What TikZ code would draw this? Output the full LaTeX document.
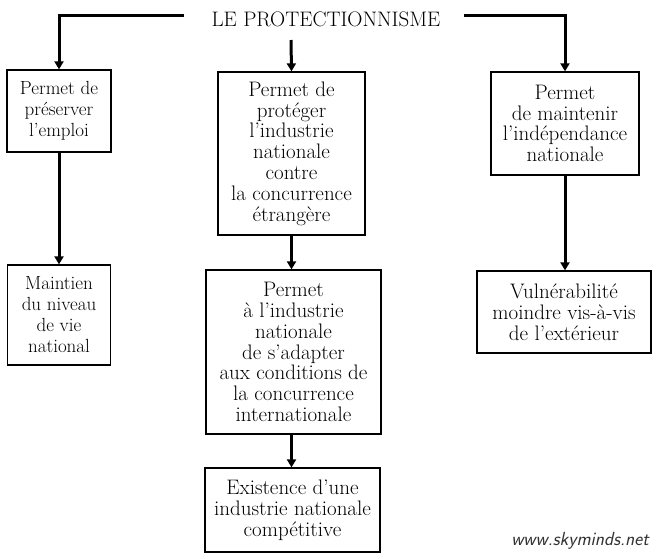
\documentclass[tikz,border=0pt]{standalone}
\usepackage{tikz}
\usetikzlibrary{arrows.meta}

\begin{document}
\begin{tikzpicture}[x=1pt,y=-1pt,
    box/.style={draw,line width=1.3pt,align=center,inner sep=0pt,
      font=\fontsize{21}{20.8}\selectfont},
    narrowbox/.style={box,font=\fontsize{19}{21}\selectfont},
    link/.style={line width=3pt,-{Triangle[length=8pt,width=9pt]}}]
    \useasboundingbox (0,0) rectangle (668,558);
    \node (title) at (326,19) {\fontsize{21}{21}\selectfont LE PROTECTIONNISME};
    % left column
    \node[narrowbox,minimum width=104pt,minimum height=82pt] (emploi) at (59,111) {Permet de\\préserver\\l'emploi};
    \node[narrowbox,minimum width=103pt,minimum height=100pt] (niveau) at (59,315) {Maintien\\du niveau\\de vie\\national};
    % centre column
    \node[box,minimum width=147pt,minimum height=163pt] (proteger) at (291.5,153.5) {Permet de\\protéger\\l'industrie\\nationale\\contre\\la concurrence\\étrangère};
    \node[box,minimum width=175pt,minimum height=164pt] (adapter) at (293.5,352) {Permet\\à l'industrie\\nationale\\de s'adapter\\aux conditions de\\la concurrence\\internationale};
    \node[box,minimum width=175pt,minimum height=84pt] (existence) at (292.5,510) {Existence d'une\\industrie nationale\\compétitive};
    % right column
    \node[box,minimum width=148pt,minimum height=103pt] (independance) at (565,123.5) {Permet\\de maintenir\\l'indépendance\\nationale};
    \node[box,minimum width=174pt,minimum height=82pt] (vulnerable) at (564,312) {Vulnérabilité\\moindre vis-à-vis\\de l'extérieur};
    % connectors from the title
    \coordinate (tl) at (184,15);
    \coordinate (tr) at (464,15);
    \coordinate (tc) at (291,40);
    \draw[link] (tl) -| (emploi.north);
    \draw[link] (tr) -| (independance.north);
    \draw[link] (tc) -- (proteger.north);
    % connectors between boxes
    \draw[link] (emploi) -- (niveau);
    \draw[link] (proteger.south) -- (proteger.south |- adapter.north);
    \draw[link] (adapter.south -| proteger.south) -- (proteger.south |- existence.north);
    \draw[link] (independance) -- (independance |- vulnerable.north);
    \node[font=\sffamily\itshape\fontsize{19}{21}\selectfont,text=black!80] (site) at (580,541) {www.skyminds.net};
\end{tikzpicture}
\end{document}
